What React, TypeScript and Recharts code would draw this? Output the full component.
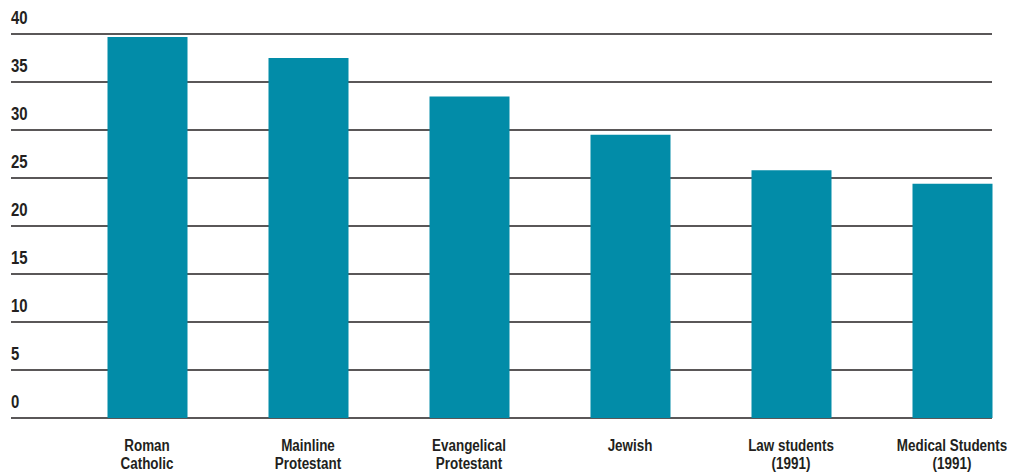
import { BarChart, Bar, XAxis, YAxis, CartesianGrid } from 'recharts'

const categories = [
    ['Roman', 'Catholic'],
    ['Mainline', 'Protestant'],
    ['Evangelical', 'Protestant'],
    ['Jewish'],
    ['Law students', '(1991)'],
    ['Medical Students', '(1991)'],
]
const values = [39.7, 37.5, 33.5, 29.5, 25.8, 24.4]
const yTicks = [0, 5, 10, 15, 20, 25, 30, 35, 40]

const data = categories.map((lines, i) => ({ name: lines.join(' '), lines, value: values[i] }))

// no condensed font installed, so squeeze Liberation Sans horizontally
const FONT = '"Liberation Sans", Arial, sans-serif'

function YTick({ y, payload }: any) {
    return (
        <text transform={`translate(3,${y - 10}) scale(0.83,1)`} textAnchor="start" fill="#231f20"
            fontSize={18} fontWeight={700} fontFamily={FONT}>
            {payload.value}
        </text>
    )
}

function XTick({ x, y, payload, index }: any) {
    const lines = data[index]?.lines ?? [payload.value]
    return (
        <g transform={`translate(${x},${y}) scale(0.79,1)`}>
            <text x={0} y={0} textAnchor="middle" fill="#231f20" fontSize={17} fontWeight={700} fontFamily={FONT}>
                {lines.map((l: string, i: number) => (
                    <tspan key={i} x={0} dy={i === 0 ? 25 : 18}>{l}</tspan>
                ))}
            </text>
        </g>
    )
}

export default function App() {
    return (
        <BarChart width={1007} height={465} data={data} margin={{ top: 26, right: 23, bottom: 0, left: 2 }}
            style={{ overflow: 'visible' }}>
            <CartesianGrid vertical={false} stroke="#231f20" strokeWidth={1.3} />
            <XAxis
                dataKey="name"
                axisLine={false}
                tickLine={false}
                height={55}
                interval={0}
                padding={{ left: 55.5, right: -40.5 }}
                tick={<XTick />}
            />
            <YAxis
                domain={[0, 40]}
                ticks={yTicks}
                width={1}
                interval={0}
                axisLine={false}
                tickLine={false}
                tick={<YTick />}
            />
            <Bar dataKey="value" fill="#028ca8" barSize={80} isAnimationActive={false} />
        </BarChart>
    )
}
